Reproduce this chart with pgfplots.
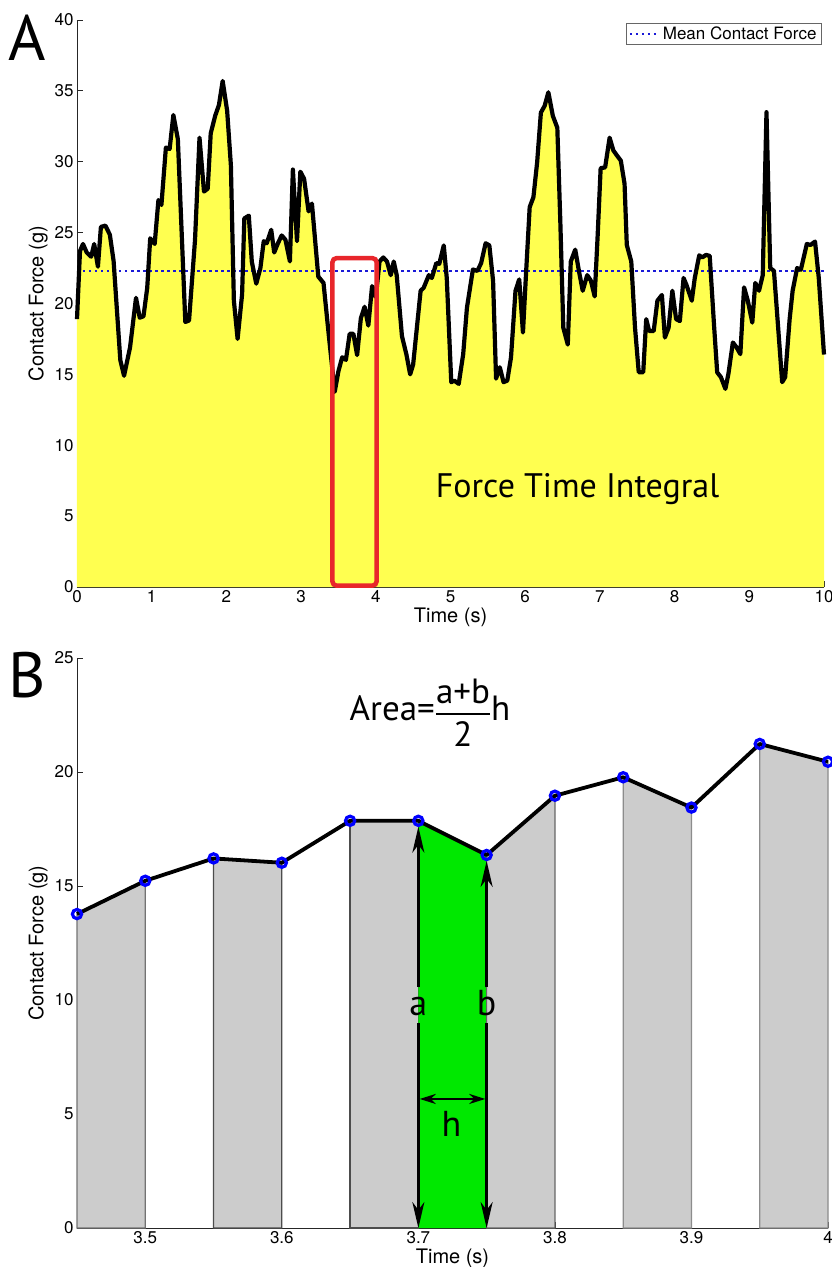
\documentclass[border=0pt]{standalone}
\usepackage{amsmath}
\usepackage{fontspec}
\setmainfont{TeX Gyre Heros}
\newfontfamily\myriad{PT Sans}
\usepackage{pgfplots}
\usepackage{pgfplotstable}
\pgfplotsset{compat=1.18}
\usetikzlibrary{arrows.meta}

\definecolor{yfill}{RGB}{255,255,80}
\definecolor{gfill}{RGB}{0,232,0}
\definecolor{greyfill}{RGB}{204,204,204}
\definecolor{meanblue}{RGB}{25,25,215}
\definecolor{boxred}{RGB}{232,38,43}

\pgfplotstableread{
t F
0.00 18.9
0.04 23.7
0.08 24.2
0.13 23.6
0.19 23.3
0.23 24.2
0.28 22.6
0.32 25.4
0.38 25.5
0.44 24.85
0.49 23.0
0.58 16.0
0.63 14.9
0.71 16.9
0.79 20.4
0.84 19.0
0.89 19.1
0.94 21.1
0.98 24.6
1.04 24.2
1.09 27.3
1.13 26.95
1.19 31.0
1.24 30.9
1.29 33.3
1.35 31.6
1.45 18.7
1.50 18.8
1.58 24.5
1.64 31.7
1.70 27.9
1.75 28.1
1.79 32.0
1.85 33.25
1.90 34.0
1.95 35.7
2.01 33.6
2.06 29.75
2.10 20.2
2.15 17.5
2.21 20.65
2.24 26.0
2.30 26.2
2.34 22.95
2.40 21.4
2.455 22.5
2.50 24.4
2.54 24.25
2.60 25.2
2.64 23.6
2.69 24.25
2.74 24.8
2.79 24.5
2.85 22.97
2.89 29.45
2.945 24.4
2.99 29.3
3.04 28.8
3.10 26.5
3.145 27.05
3.23 21.9
3.30 21.45
3.37 17.8
3.45 13.77
3.50 15.23
3.55 16.21
3.60 16.02
3.65 17.86
3.70 17.86
3.75 16.36
3.80 18.96
3.85 19.77
3.90 18.44
3.95 21.23
4.00 20.45
4.05 22.96
4.10 23.25
4.15 22.96
4.20 22.0
4.24 22.96
4.28 22.0
4.35 17.7
4.41 16.4
4.46 15.0
4.50 15.7
4.60 20.9
4.64 21.1
4.71 22.0
4.75 21.8
4.81 22.85
4.85 22.8
4.91 24.1
4.95 21.8
5.01 14.45
5.05 14.56
5.11 14.33
5.17 16.43
5.22 19.7
5.30 22.4
5.36 22.3
5.41 22.85
5.47 24.25
5.52 24.1
5.57 21.6
5.61 14.7
5.66 15.5
5.71 14.45
5.76 14.56
5.81 16.2
5.87 20.9
5.92 21.7
5.97 17.95
6.01 22.0
6.06 26.8
6.11 27.5
6.16 29.97
6.21 33.47
6.26 33.94
6.31 34.9
6.37 33.24
6.43 32.4
6.47 25.8
6.51 18.3
6.57 17.1
6.61 22.96
6.67 23.8
6.72 22.27
6.77 20.9
6.83 22.0
6.88 21.6
6.93 20.5
6.97 24.8
7.01 29.55
7.07 29.6
7.13 31.7
7.18 30.8
7.23 30.43
7.28 30.08
7.33 28.45
7.36 24.13
7.42 22.96
7.47 18.3
7.52 15.15
7.58 15.15
7.62 18.9
7.66 18.06
7.72 18.06
7.77 20.2
7.83 20.6
7.87 17.6
7.92 18.3
7.97 20.9
8.02 18.9
8.07 18.76
8.12 21.8
8.16 21.3
8.23 20.2
8.27 21.8
8.33 23.4
8.37 23.25
8.42 23.43
8.47 23.36
8.53 18.3
8.57 15.15
8.62 14.8
8.68 13.98
8.72 15.03
8.78 17.25
8.83 16.9
8.88 16.43
8.93 21.14
8.98 20.2
9.04 18.65
9.08 21.45
9.13 20.9
9.18 22.0
9.23 33.5
9.28 22.5
9.33 22.3
9.37 19.46
9.44 14.45
9.48 14.8
9.54 18.9
9.58 20.9
9.64 22.5
9.69 22.38
9.77 24.2
9.82 24.13
9.88 24.37
9.93 21.8
10.0 16.4
}\forcedata

\pgfplotstableread{
t F
3.45 13.77
3.50 15.23
3.55 16.21
3.60 16.02
3.65 17.86
3.70 17.86
3.75 16.36
3.80 18.96
3.85 19.77
3.90 18.44
3.95 21.23
4.00 20.45
}\zoomdata

\pgfplotsset{
  mystyle/.style={
    scale only axis,
    axis lines*=left,
    clip=false,
    tick align=inside,
    major tick length=6pt,
    axis line style={black!85, line width=0.8pt},
    every tick/.style={black!85, line width=0.8pt},
    /pgf/number format/assume math mode=true,
    tick label style={font=\fontsize{17}{19}\selectfont},
    label style={font=\fontsize{20}{23}\selectfont},
    xlabel style={at={(axis description cs:0.5,0)}, anchor=center, yshift=-30pt},
  }
}

\begin{document}
\begin{tikzpicture}
\useasboundingbox (0pt,0pt) rectangle (831pt,-1267pt);

% ---------------- Panel A ----------------
\begin{axis}[mystyle,
  at={(77pt,-587pt)}, anchor=south west,
  width=747pt, height=567pt,
  xmin=0, xmax=10, ymin=0, ymax=40,
  xtick={0,1,...,10}, ytick={0,5,...,40},
  xlabel={Time (s)}, ylabel={Contact Force (g)},
  ylabel style={at={(axis description cs:-0.0522,0.5)}, anchor=center},
  legend style={at={(rel axis cs:0.997,0.995)}, anchor=north east,
    draw=black!60, line width=0.6pt, font=\fontsize{17}{19}\selectfont,
    inner xsep=3pt, inner ysep=1.5pt},
  legend image code/.code={\draw[#1] (0pt,0pt) -- (30pt,0pt);},
]
\addplot[fill=yfill, draw=none, forget plot] table[x=t, y=F] {\forcedata} \closedcycle;
\addplot[meanblue, line width=2pt, dash pattern=on 2.5pt off 3.5pt] coordinates {(0,22.27) (10,22.27)};
\addlegendentry{Mean Contact Force}
\addplot[black, line width=4.2pt, line join=round, forget plot] table[x=t, y=F] {\forcedata};
\draw[boxred, line width=4.5pt, rounded corners=4pt] (axis cs:3.42,0.1) rectangle (axis cs:4.01,23.2);
\node[font=\myriad\fontsize{34}{40}\selectfont, anchor=base] at (axis cs:6.70,6.3) {Force Time Integral};
\end{axis}

% ---------------- Panel B ----------------
\begin{axis}[mystyle,
  at={(77pt,-1228pt)}, anchor=south west,
  width=751pt, height=570pt,
  xmin=3.45, xmax=4.0, ymin=0, ymax=25,
  xtick={3.5,3.6,3.7,3.8,3.9,4}, xticklabels={3.5,3.6,3.7,3.8,3.9,4},
  ytick={0,5,...,25},
  xlabel={Time (s)}, ylabel={Contact Force (g)},
  ylabel style={at={(axis description cs:-0.0519,0.5)}, anchor=center},
]
\addplot[fill=greyfill, draw=black!55, line width=1.2pt] coordinates {(3.45,13.77) (3.50,15.23)} \closedcycle;
\addplot[fill=greyfill, draw=black!70, line width=1.2pt] coordinates {(3.55,16.21) (3.60,16.02)} \closedcycle;
\addplot[fill=greyfill, draw=black!70, line width=1.2pt] coordinates {(3.65,17.86) (3.70,17.86)} \closedcycle;
\addplot[fill=gfill, draw=none] coordinates {(3.70,17.86) (3.75,16.36)} \closedcycle;
\addplot[fill=greyfill, draw=black!60, line width=1.2pt] coordinates {(3.75,16.36) (3.80,18.96)} \closedcycle;
\addplot[fill=greyfill, draw=black!45, line width=1.2pt] coordinates {(3.85,19.77) (3.90,18.44)} \closedcycle;
\addplot[fill=greyfill, draw=black!45, line width=1.2pt] coordinates {(3.95,21.23) (4.00,20.45)} \closedcycle;
\addplot[black, line width=3.8pt, line join=round] table[x=t, y=F] {\zoomdata};
% arrows
\draw[line width=2.6pt, -{Stealth[length=26pt,width=12pt,inset=8pt]}] (axis cs:3.7,8.99) -- (axis cs:3.7,0);
\draw[line width=2.6pt, -{Stealth[length=26pt,width=12pt,inset=8pt]}] (axis cs:3.7,10.57) -- (axis cs:3.7,17.6);
\draw[line width=2.6pt, -{Stealth[length=26pt,width=12pt,inset=8pt]}] (axis cs:3.75,8.99) -- (axis cs:3.75,0);
\draw[line width=2.6pt, -{Stealth[length=26pt,width=12pt,inset=8pt]}] (axis cs:3.75,10.57) -- (axis cs:3.75,16.1);
\draw[line width=2pt, {Stealth[length=16pt,width=10pt,inset=5pt]}-{Stealth[length=16pt,width=10pt,inset=5pt]}] (axis cs:3.701,5.66) -- (axis cs:3.749,5.66);
\node[font=\myriad\fontsize{36}{42}\selectfont, inner sep=0pt] at (axis cs:3.7,9.7) {a};
\node[font=\myriad\fontsize{36}{42}\selectfont, inner sep=0pt] at (axis cs:3.75,9.85) {b};
\node[font=\myriad\fontsize{36}{42}\selectfont, inner sep=0pt] at (axis cs:3.7243,4.56) {h};
\addplot[only marks, mark=o, mark size=4.6pt, mark options={draw=blue, line width=3.2pt, fill=white}] table[x=t, y=F] {\zoomdata};
\node[font=\myriad\fontsize{35}{41}\selectfont, inner sep=0pt] at (axis cs:3.7085,22.6) {Area=$\genfrac{}{}{2.2pt}{0}{\mbox{a+b}}{\mbox{2}}$h};
\end{axis}

% panel letters
\node[font=\myriad\fontsize{64}{70}\selectfont, anchor=base west, inner sep=0pt] at (8pt,-60pt) {A};
\node[font=\myriad\fontsize{64}{70}\selectfont, anchor=base west, inner sep=0pt] at (8pt,-697pt) {B};
\end{tikzpicture}
\end{document}
